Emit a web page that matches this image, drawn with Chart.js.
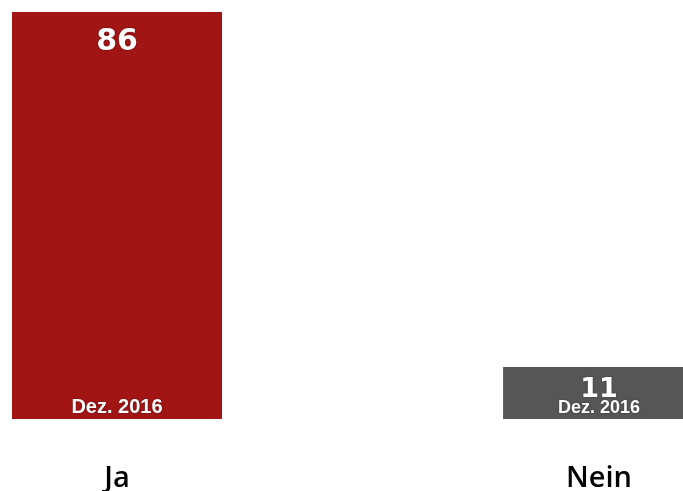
<!DOCTYPE html>
<html>
<head>
<meta charset="utf-8">
<script src="https://cdn.jsdelivr.net/npm/chart.js@4"></script>
<style>
  html, body { margin: 0; padding: 0; background: #fff; overflow: hidden; }
  #wrap { position: absolute; left: -124px; top: 0; width: 964px; height: 491px; }
</style>
</head>
<body>
<div id="wrap"><canvas id="grafico"></canvas></div>
<script>
const categorias = ["Ja", "Nein"];
const valoresJa = [86, null];
const valoresNein = [null, 11];
const fechaEtiqueta = "Dez. 2016";

// Etiquetas dentro de las barras: valor arriba, fecha abajo
const etiquetasBarras = {
  id: "etiquetasBarras",
  afterDatasetsDraw(chart) {
    const ctx = chart.ctx;
    ctx.save();
    ctx.fillStyle = "#fff";
    ctx.textAlign = "center";
    ctx.textBaseline = "alphabetic";
    ctx.shadowColor = "rgba(0,0,0,0.45)";
    ctx.shadowBlur = 2;
    chart.data.datasets.forEach((ds, i) => {
      chart.getDatasetMeta(i).data.forEach((bar, j) => {
        const v = ds.data[j];
        if (v === null) return;
        const alto = bar.base - bar.y;
        const grande = alto > 100;
        const baseFecha = bar.base - 6;
        ctx.font = "bold " + (grande ? 20 : 18) + "px 'Liberation Sans', Arial, sans-serif";
        ctx.fillText(fechaEtiqueta, bar.x, baseFecha);
        const baseValor = Math.min(bar.y + 38, baseFecha - 16);
        ctx.font = "bold " + (grande ? 30 : 27) + "px 'DejaVu Sans', Verdana, sans-serif";
        ctx.fillText(String(v), bar.x, baseValor);
      });
    });
    ctx.restore();
  }
};

new Chart(document.getElementById("grafico"), {
  type: "bar",
  data: {
    labels: categorias,
    datasets: [
      {
        label: "Ja",
        data: valoresJa,
        backgroundColor: "#a11515",
        categoryPercentage: 1,
        barPercentage: 0.4357,
        grouped: false
      },
      {
        label: "Nein",
        data: valoresNein,
        backgroundColor: "#565656",
        categoryPercentage: 1,
        barPercentage: 0.398,
        grouped: false
      }
    ]
  },
  options: {
    responsive: true,
    maintainAspectRatio: false,
    animation: false,
    layout: { padding: { top: 12, left: 0, right: 0, bottom: 0 } },
    plugins: {
      legend: { display: false },
      tooltip: { enabled: false }
    },
    scales: {
      x: {
        grid: { display: false, drawTicks: false },
        border: { display: false },
        afterFit(scale) { scale.height = 72; },
        ticks: {
          padding: 42,
          color: "#000",
          font: { family: "'Open Sans', sans-serif", size: 29, weight: "600" }
        }
      },
      y: {
        display: false,
        min: 0,
        max: 86
      }
    }
  },
  plugins: [etiquetasBarras]
});
</script>
</body>
</html>
